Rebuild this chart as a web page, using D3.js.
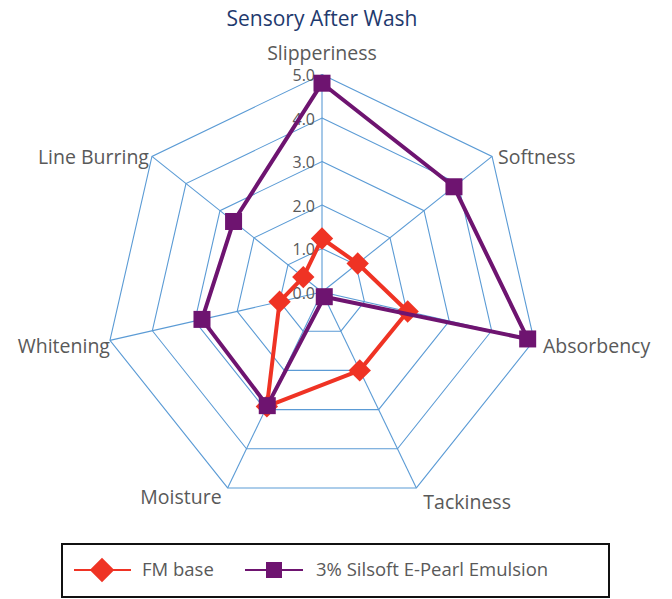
<!DOCTYPE html>
<html><head><meta charset="utf-8">
<script src="https://cdn.jsdelivr.net/npm/d3@7"></script>
<style>body{margin:0;background:#fff}svg{display:block}</style>
</head><body>
<script>
const categories = ["Slipperiness","Softness","Absorbency","Tackiness","Moisture","Whitening","Line Burring"];
const fmBase = [1.23, 1.05, 2.02, 2.0, 2.92, 1.0, 0.55];
const silsoft = [4.8, 3.88, 4.85, 0.12, 2.9, 2.83, 2.6];
const seriesNames = ["FM base", "3% Silsoft E-Pearl Emulsion"];
const tickValues = [0, 1, 2, 3, 4, 5];
const title = "Sensory After Wash";

const W = 672, H = 599;
const cx = 322, cy = 292, R = 217.5;
const font = "'Open Sans', Lato, sans-serif";
const gridColor = "#5b9bd5";
const red = "#ef3324", purple = "#6e1470";

const svg = d3.select("body").append("svg").attr("width", W).attr("height", H);

const r = d3.scaleLinear().domain([0, 5]).range([0, R]);
const ang = d3.scalePoint().domain(categories).range([0, 2*Math.PI*(categories.length-1)/categories.length]);
const pt = (c, v) => { const a = ang(c) - Math.PI/2; return [cx + r(v)*Math.cos(a), cy + r(v)*Math.sin(a)]; };

// title
svg.append("text").attr("x", 322).attr("y", 26).attr("text-anchor","middle")
  .attr("font-family", font).attr("font-size", 21).attr("fill", "#1f3a6e").text(title);

// grid rings
const g = svg.append("g");
tickValues.filter(t => t > 0).forEach(t => {
  g.append("polygon").attr("points", categories.map(c => pt(c, t).join(",")).join(" "))
    .attr("fill","none").attr("stroke", gridColor).attr("stroke-width", 1.1);
});
categories.forEach(c => {
  const [x, y] = pt(c, 5);
  g.append("line").attr("x1", cx).attr("y1", cy).attr("x2", x).attr("y2", y)
    .attr("stroke", gridColor).attr("stroke-width", 1.1);
});

// tick labels
tickValues.forEach(t => {
  svg.append("text").attr("x", cx - 7).attr("y", cy - r(t) + 1).attr("dy", "0.36em")
    .attr("text-anchor","end").attr("font-family", font).attr("font-size", 16).attr("fill", "#595959")
    .text(d3.format(".1f")(t));
});

// category labels: offset relative to the outer vertex
const labelPlace = {
  "Slipperiness": {dx: 0, dy: -21, anchor: "middle"},
  "Softness":     {dx: 6, dy: 1, anchor: "start"},
  "Absorbency":   {dx: 9, dy: 6, anchor: "start"},
  "Tackiness":    {dx: 7, dy: 14, anchor: "start"},
  "Moisture":     {dx: -6, dy: 9, anchor: "end"},
  "Whitening":    {dx: 0, dy: 6, anchor: "end"},
  "Line Burring": {dx: -3, dy: 1, anchor: "end"}
};
categories.forEach(c => {
  const [x, y] = pt(c, 5);
  const p = labelPlace[c];
  svg.append("text").attr("x", x + p.dx).attr("y", y + p.dy).attr("dy","0.35em").attr("text-anchor", p.anchor)
    .attr("font-family", font).attr("font-size", 19.5).attr("fill", "#595959").text(c);
});

// series
const line = d3.line();
const diamond = d3.symbol(d3.symbolSquare, 250)();
function drawSeries(vals, color, shape) {
  const pts = categories.map((c, i) => pt(c, vals[i]));
  svg.append("path").attr("d", line(pts) + "Z").attr("fill","none").attr("stroke", color)
    .attr("stroke-width", 4).attr("stroke-linejoin","round");
  pts.forEach(p => {
    if (shape === "diamond") {
      svg.append("path").attr("d", diamond).attr("transform", `translate(${p[0]},${p[1]}) rotate(45)`).attr("fill", color);
    } else {
      svg.append("rect").attr("x", p[0]-8.5).attr("y", p[1]-8.5).attr("width", 17).attr("height", 17).attr("fill", color);
    }
  });
}
drawSeries(fmBase, red, "diamond");
drawSeries(silsoft, purple, "square");

// legend
const lg = svg.append("g");
lg.append("rect").attr("x", 62).attr("y", 544).attr("width", 547).attr("height", 53)
  .attr("fill","none").attr("stroke","#111").attr("stroke-width", 2);
const ly = 570;
lg.append("line").attr("x1", 74).attr("x2", 131).attr("y1", ly).attr("y2", ly).attr("stroke", red).attr("stroke-width", 2);
lg.append("path").attr("d", d3.symbol(d3.symbolSquare, 300)()).attr("transform", `translate(102,${ly}) rotate(45)`).attr("fill", red);
lg.append("text").attr("x", 142).attr("y", ly).attr("dy","0.35em").attr("font-family", font).attr("font-size", 18.5).attr("fill","#595959").text(seriesNames[0]);
lg.append("line").attr("x1", 245).attr("x2", 303).attr("y1", ly).attr("y2", ly).attr("stroke", purple).attr("stroke-width", 2);
lg.append("rect").attr("x", 266).attr("y", ly-8).attr("width", 16).attr("height", 16).attr("fill", purple);
lg.append("text").attr("x", 316).attr("y", ly).attr("dy","0.35em").attr("font-family", font).attr("font-size", 18.5).attr("fill","#595959").text(seriesNames[1]);
</script>
</body></html>
